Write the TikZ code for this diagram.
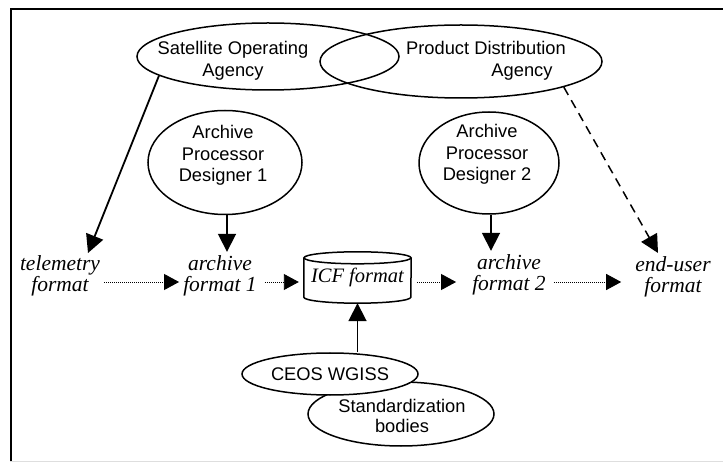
\documentclass[tikz,border=0pt]{standalone}
\usepackage{fontspec}
\setmainfont{Liberation Serif}
\setsansfont{Liberation Sans}
\usetikzlibrary{shapes.geometric,arrows.meta}
\begin{document}
\begin{tikzpicture}[x=1pt,y=-1pt,
  oval/.style={ellipse,draw,line width=1.5pt,inner sep=0pt},
  lbl/.style={font=\sffamily\fontsize{18.3}{22}\selectfont,align=center,inner sep=0pt},
  fmt/.style={font=\itshape\fontsize{21.5}{20.5}\selectfont,align=center,inner sep=4pt},
  arr/.style={line width=1.8pt,-{Triangle[length=18pt,width=18pt]}},
  flow/.style={line width=0.9pt,dash pattern=on 1pt off 1pt,-{Triangle[length=15pt,width=16pt]}},
  hint/.style={line width=1.5pt,dash pattern=on 9pt off 6pt,-{Triangle[length=18pt,width=18pt]}},
]
\useasboundingbox (0,0) rectangle (723,462);

% frame
\draw[line width=2pt] (10.5,462) -- (10.5,9.5) -- (723,9.5);
\draw[line width=1.4pt,black!13] (10,461.3) -- (723,461.3);

% agencies
\node[oval,minimum width=262pt,minimum height=67pt] (sat) at (268,56.5) {};
\node[oval,minimum width=282pt,minimum height=73pt] (pda) at (461,61.5) {};
\node[lbl] (sattext) at (233,60.5) {Satellite Operating\\Agency};
\node[lbl] (pdatext) at (486,60.5) {Product Distribution\\\hspace*{72pt}Agency};

% archive processor designers
\node[oval,minimum width=154pt,minimum height=104pt] (c1) at (225,162.5) {};
\node[oval,minimum width=140pt,minimum height=102pt] (c2) at (489,163) {};
\node[lbl,font=\sffamily\fontsize{18.3}{21.5}\selectfont] (c1text) at (223,155.5) {Archive\\Processor\\Designer 1};
\node[lbl,font=\sffamily\fontsize{18.3}{21.5}\selectfont] (c2text) at (487,154.5) {Archive\\Processor\\Designer 2};

% formats
\node[fmt] (tel)  at (60,276)  {telemetry\\format};
\node[fmt] (arc1) at (220,276) {archive\\format 1};
\node[fmt] (arc2) at (509,275) {archive\\format 2};
\node[fmt] (eu)   at (673,277) {end-user\\format};

% ICF format container (cylinder)
\node[inner sep=0pt,minimum width=107pt,minimum height=51pt,
      font=\itshape\fontsize{20.5}{20.5}\selectfont] (icf) at (357.5,277.5) {ICF format};
\draw[line width=1.5pt] ([yshift=-6pt]icf.north west) -- ([yshift=6pt]icf.south west)
  arc[start angle=180,end angle=360,x radius=53.5pt,y radius=6pt]
  -- ([yshift=-6pt]icf.north east);
\draw[line width=1.5pt] ([yshift=-6pt]icf.north) ellipse[x radius=53.5pt,y radius=6pt];

% standards bodies
\node[oval,minimum width=186pt,minimum height=64pt] (std) at (401,414) {};
\node[lbl,font=\sffamily\fontsize{18.3}{19.5}\selectfont] (stdtext) at (402,416) {Standardization\\bodies};
\node[oval,fill=white,minimum width=176pt,minimum height=42pt,font=\sffamily\fontsize{18.3}{22}\selectfont] (ceos) at (330,374) {CEOS WGISS};

% free ends of the slanted arrows
\coordinate (telin) at (88,253);
\coordinate (euin) at (658,253);

% connectors
\draw[arr] (sat.190) -- (telin);
\draw[hint] (pda.-14) -- (euin);
\draw[arr] ([xshift=2pt]c1.south) -- ([xshift=2pt]c1.south |- arc1.north);
\draw[arr] ([xshift=2pt]c2.south) -- ([xshift=2pt]c2.south |- arc2.north);
\draw[arr] (icf.south |- ceos.north) -- (icf.south);

\draw[flow] ([yshift=-6pt]tel.east) -- ([yshift=-6pt]arc1.west);
\draw[flow,shorten <=4pt,shorten >=5pt] ([yshift=-6pt]arc1.east) -- ([yshift=-4.5pt]icf.west);
\draw[flow,shorten <=6pt,shorten >=12pt] ([yshift=-4.5pt]icf.east) -- ([yshift=-7pt]arc2.west);
\draw[flow,shorten <=4pt,shorten >=10pt] ([yshift=-7pt]arc2.east) -- ([yshift=-5pt]eu.west);
\end{tikzpicture}
\end{document}
